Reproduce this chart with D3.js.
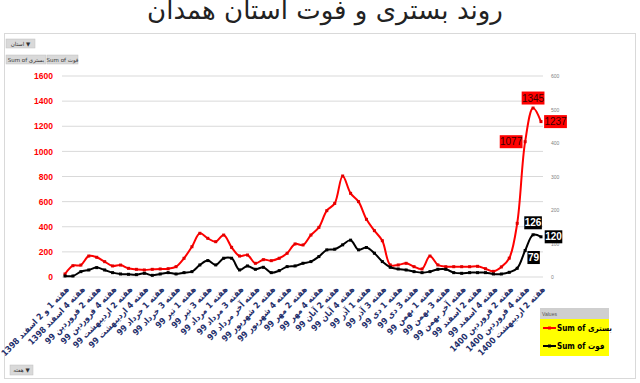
<!DOCTYPE html>
<html>
<head>
<meta charset="utf-8">
<script src="https://cdn.jsdelivr.net/npm/d3@7"></script>
<style>
  body { margin: 0; background: #fff; }
  #chart { width: 640px; height: 383px; }
  svg { display: block; }
</style>
</head>
<body>
<div id="chart"></div>
<script>
// weekly categories (every other one is shown on the axis)
const weeks = [
  "هفته 1 و 2 اسفند 1398", "هفته 3 اسفند 1398", "هفته 4 اسفند 1398",
  "هفته 1 فروردین 99", "هفته 2 فروردین 99", "هفته 3 فروردین 99", "هفته 4 فروردین 99",
  "هفته 1 اردیبهشت 99", "هفته 2 اردیبهشت 99", "هفته 3 اردیبهشت 99", "هفته 4 اردیبهشت 99", "هفته آخر اردیبهشت 99",
  "هفته 1 خرداد 99", "هفته 2 خرداد 99", "هفته 3 خرداد 99", "هفته 4 خرداد 99",
  "هفته 1 تیر 99", "هفته 2 تیر 99", "هفته 3 تیر 99", "هفته 4 تیر 99",
  "هفته 1 مرداد 99", "هفته 2 مرداد 99", "هفته 3 مرداد 99", "هفته 4 مرداد 99", "هفته آخر مرداد 99",
  "هفته 1 شهریور 99", "هفته 2 شهریور 99", "هفته 3 شهریور 99", "هفته 4 شهریور 99",
  "هفته 1 مهر 99", "هفته 2 مهر 99", "هفته 3 مهر 99", "هفته 4 مهر 99",
  "هفته 1 آبان 99", "هفته 2 آبان 99", "هفته 3 آبان 99", "هفته 4 آبان 99", "هفته آخر آبان 99",
  "هفته 1 آذر 99", "هفته 2 آذر 99", "هفته 3 آذر 99", "هفته 4 آذر 99",
  "هفته 1 دی 99", "هفته 2 دی 99", "هفته 3 دی 99", "هفته 4 دی 99",
  "هفته 1 بهمن 99", "هفته 2 بهمن 99", "هفته 3 بهمن 99", "هفته 4 بهمن 99", "هفته آخر بهمن 99",
  "هفته 1 اسفند 99", "هفته 2 اسفند 99", "هفته 3 اسفند 99", "هفته 4 اسفند 99",
  "هفته 1 فروردین 1400", "هفته 2 فروردین 1400", "هفته 3 فروردین 1400", "هفته 4 فروردین 1400",
  "هفته 1 اردیبهشت 1400", "هفته 2 اردیبهشت 1400"
];

// Sum of بستری (left axis)
const hospital = [
  24, 90, 95, 167, 157, 122, 88, 95, 69, 61, 56, 61, 64, 66, 82, 149, 241, 348, 308, 281,
  334, 236, 167, 175, 109, 138, 130, 149, 189, 263, 255, 334, 395, 528, 586, 804, 666, 600, 459, 369,
  289, 96, 96, 109, 82, 64, 167, 96, 82, 82, 82, 82, 85, 66, 45, 80, 150, 427, 1077, 1345, 1237
];

// Sum of فوت (right axis)
const deaths = [
  3, 3, 16, 21, 28, 21, 13, 9, 8, 7, 11, 5, 9, 13, 9, 13, 16, 36, 49, 36,
  56, 56, 21, 33, 23, 29, 13, 19, 31, 33, 41, 46, 61, 81, 83, 96, 110, 81, 88, 71,
  46, 29, 24, 21, 16, 13, 16, 23, 23, 13, 11, 13, 13, 13, 9, 9, 14, 26, 79, 126, 120
];

const leftTicks = [0, 200, 400, 600, 800, 1000, 1200, 1400, 1600];
const rightTicks = [0, 100, 200, 300, 400, 500, 600];

const width = 640;
const height = 383;

const svg = d3.select("#chart").append("svg")
    .attr("width", width)
    .attr("height", height);

// title
svg.append("text")
    .attr("x", 325)
    .attr("y", 19)
    .attr("text-anchor", "middle")
    .style("font-family", "DejaVu Sans")
    .style("font-size", "26px")
    .style("fill", "#222")
    .text("روند بستری و فوت استان همدان");

// chart frame
svg.append("rect")
    .attr("x", 4.5).attr("y", 33.5)
    .attr("width", 631).attr("height", 345)
    .style("fill", "#fff")
    .style("stroke", "#d9d9d9");

// field buttons
function button(x, y, w, h, label) {
    svg.append("rect")
        .attr("x", x).attr("y", y).attr("width", w).attr("height", h)
        .style("fill", "#d9d9d9").style("stroke", "#c0c0c0").style("stroke-width", 0.5);
    svg.append("text")
        .attr("x", x + w / 2).attr("y", y + h / 2 + 2)
        .attr("text-anchor", "middle")
        .style("font-family", "DejaVu Sans")
        .style("font-size", "5.5px")
        .style("fill", "#333")
        .text(label);
}
button(6, 39, 29, 9, "استان ▼");
button(6, 55, 40, 9, "Sum of بستری");
button(47, 55, 31, 9, "Sum of فوت");
button(10, 365, 23, 10, "هفته ▼");

const x = d3.scalePoint()
    .domain(weeks)
    .range([65, 541]);

const yLeft = d3.scaleLinear()
    .domain([0, 1600])
    .range([277, 76]);

const yRight = d3.scaleLinear()
    .domain([0, 600])
    .range([277, 76]);

// gridlines
svg.append("g")
    .selectAll("line")
    .data(leftTicks)
    .join("line")
    .attr("x1", 62).attr("x2", 543)
    .attr("y1", d => yLeft(d)).attr("y2", d => yLeft(d))
    .style("stroke", "#d9d9d9")
    .style("stroke-width", 1);

// left axis
const axisL = svg.append("g")
    .attr("transform", "translate(55,0)")
    .call(d3.axisLeft(yLeft).tickValues(leftTicks).tickFormat(d3.format("d")).tickSize(0).tickPadding(2));
axisL.select(".domain").remove();
axisL.selectAll("text")
    .style("font-family", "Liberation Sans")
    .style("font-weight", "bold")
    .style("font-size", "8.5px")
    .style("fill", "#ff0000");

// right axis
const axisR = svg.append("g")
    .attr("transform", "translate(549,0)")
    .call(d3.axisRight(yRight).tickValues(rightTicks).tickSize(0).tickPadding(2));
axisR.select(".domain").remove();
axisR.selectAll("text")
    .style("font-family", "Liberation Sans")
    .style("font-size", "5px")
    .style("fill", "#7f7f7f");

// x axis labels
const axisX = svg.append("g")
    .attr("transform", "translate(0,284)")
    .call(d3.axisBottom(x).tickValues(weeks.filter((d, i) => i % 2 === 0)).tickSize(0).tickPadding(0));
axisX.select(".domain").remove();
axisX.selectAll("text")
    .attr("text-anchor", "end")
    .attr("y", 0)
    .attr("dy", 0)
    .attr("transform", "translate(4,6) rotate(-46)")
    .style("font-family", "DejaVu Sans Condensed, DejaVu Sans")
    .style("font-weight", "bold")
    .style("font-size", "8.6px")
    .style("fill", "#1f2f6b");

// lines
const idx = d3.range(weeks.length);

const lineL = d3.line()
    .x(i => x(weeks[i]))
    .y(i => yLeft(hospital[i]))
    .curve(d3.curveCatmullRom.alpha(0.5));

const lineR = d3.line()
    .x(i => x(weeks[i]))
    .y(i => yRight(deaths[i]))
    .curve(d3.curveCatmullRom.alpha(0.5));

svg.append("path")
    .datum(idx)
    .attr("d", lineL)
    .style("fill", "none")
    .style("stroke", "#ff0000")
    .style("stroke-width", 2);

svg.append("g")
    .selectAll("rect")
    .data(idx)
    .join("rect")
    .attr("x", i => x(weeks[i]) - 1.5)
    .attr("y", i => yLeft(hospital[i]) - 1.5)
    .attr("width", 3).attr("height", 3)
    .style("fill", "#e00000");

svg.append("path")
    .datum(idx)
    .attr("d", lineR)
    .style("fill", "none")
    .style("stroke", "#000")
    .style("stroke-width", 2);

svg.append("g")
    .selectAll("rect")
    .data(idx)
    .join("rect")
    .attr("x", i => x(weeks[i]) - 1.5)
    .attr("y", i => yRight(deaths[i]) - 1.5)
    .attr("width", 3).attr("height", 3)
    .style("fill", "#000");

// data labels on last points
function dataLabel(i, value, yScale, dx, dy, bg, fg) {
    const cx = x(weeks[i]) + dx;
    const cy = yScale(value) + dy;
    const t = String(value);
    const w = t.length * 5.2 + 2;
    svg.append("rect")
        .attr("x", cx - w / 2).attr("y", cy - 6.5)
        .attr("width", w).attr("height", 13)
        .style("fill", bg);
    svg.append("text")
        .attr("x", cx).attr("y", cy + 3.5)
        .attr("text-anchor", "middle")
        .style("font-family", "Liberation Sans")
        .style("font-size", "10px")
        .style("font-weight", fg === "#fff" ? "bold" : "normal")
        .style("fill", fg)
        .text(t);
}
dataLabel(58, hospital[58], yLeft, -14, 0, "#ff0000", "#3a0000");
dataLabel(59, hospital[59], yLeft, 0, -10, "#ff0000", "#3a0000");
dataLabel(60, hospital[60], yLeft, 14.5, 0, "#ff0000", "#3a0000");
dataLabel(58, deaths[58], yRight, 8.5, 7, "#000", "#fff");
dataLabel(59, deaths[59], yRight, 0, -12, "#000", "#fff");
dataLabel(60, deaths[60], yRight, 12.5, 0, "#000", "#fff");

// legend
const legend = svg.append("g").attr("transform", "translate(540,308)");
legend.append("rect")
    .attr("width", 69).attr("height", 48)
    .style("fill", "#ffff00");
legend.append("rect")
    .attr("width", 69).attr("height", 11)
    .style("fill", "#cfcfcf");
legend.append("text")
    .attr("x", 2).attr("y", 7.5)
    .style("font-family", "Liberation Sans")
    .style("font-size", "5px")
    .style("fill", "#555")
    .text("Values");

const legendItems = [
    { name: "Sum of بستری", color: "#ff0000", y: 20 },
    { name: "Sum of فوت", color: "#000", y: 38 }
];
legendItems.forEach(d => {
    legend.append("line")
        .attr("x1", 3).attr("x2", 16)
        .attr("y1", d.y).attr("y2", d.y)
        .style("stroke", d.color).style("stroke-width", 2);
    legend.append("rect")
        .attr("x", 8).attr("y", d.y - 1.5)
        .attr("width", 3).attr("height", 3)
        .style("fill", d.color);
    legend.append("text")
        .attr("x", 17).attr("y", d.y + 3)
        .style("font-family", "DejaVu Sans Condensed, DejaVu Sans")
        .style("font-weight", "bold")
        .style("font-size", "8px")
        .style("fill", "#000")
        .text(d.name);
});
</script>
</body>
</html>
